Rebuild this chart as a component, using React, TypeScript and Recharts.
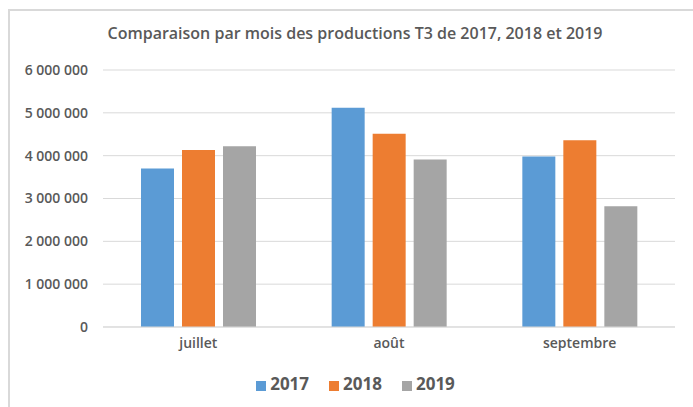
import React from "react";
import {
  BarChart,
  Bar,
  XAxis,
  YAxis,
  CartesianGrid,
  Legend,
} from "recharts";

// mois du troisième trimestre
const months = ["juillet", "août", "septembre"];

// productions par année
const prod2017 = [3700000, 5120000, 3980000];
const prod2018 = [4130000, 4510000, 4360000];
const prod2019 = [4220000, 3910000, 2820000];

const yTicks = [0, 1000000, 2000000, 3000000, 4000000, 5000000, 6000000];

const COLORS = {
  y2017: "#5b9bd5",
  y2018: "#ed7d31",
  y2019: "#a5a5a5",
};

const FONT = "'Open Sans', sans-serif";

const formatNumber = (value: number) =>
  String(value).replace(/\B(?=(\d{3})+(?!\d))/g, " ");

const App: React.FC = () => {
  const data = months.map((month, i) => ({
    month,
    "2017": prod2017[i],
    "2018": prod2018[i],
    "2019": prod2019[i],
  }));

  return (
    <div
      style={{
        position: "absolute",
        left: 0,
        top: 0,
        width: 693,
        height: 407,
        overflow: "hidden",
        background: "#fff",
        fontFamily: FONT,
      }}
    >
      {/* cadre du graphique */}
      <div
        style={{
          position: "absolute",
          left: 8,
          top: 9,
          width: 720,
          height: 440,
          border: "2px solid #d9d9d9",
        }}
      />
      <div
        style={{
          position: "absolute",
          left: 0,
          top: 22,
          width: 710,
          textAlign: "center",
          fontSize: 16,
          lineHeight: "22px",
          fontWeight: 600,
          color: "#595959",
        }}
      >
        Comparaison par mois des productions T3 de 2017, 2018 et 2019
      </div>
      <div style={{ position: "absolute", left: 0, top: 0 }}>
        <BarChart
          width={693}
          height={407}
          data={data}
          margin={{ top: 70, right: 18, bottom: 0, left: 0 }}
          barSize={33}
          barGap={8}
        >
          <CartesianGrid vertical={false} stroke="#d9d9d9" />
          <XAxis
            dataKey="month"
            axisLine={{ stroke: "#d9d9d9" }}
            tickLine={false}
            tickSize={0}
            tickMargin={11}
            height={30}
            tick={{ fill: "#595959", fontSize: 14, fontWeight: 600, fontFamily: FONT }}
          />
          <YAxis
            width={103}
            domain={[0, 6000000]}
            ticks={yTicks}
            axisLine={false}
            tickLine={false}
            tickSize={0}
            tickMargin={15}
            tickFormatter={formatNumber}
            tick={{ fill: "#595959", fontSize: 14, fontWeight: 600, fontFamily: FONT }}
          />
          <Legend
            verticalAlign="bottom"
            iconType="square"
            iconSize={10}
            height={50}
            wrapperStyle={{ paddingTop: 0, paddingLeft: 28, top: 372 }}
            formatter={(value) => (
              <span
                style={{
                  color: "#595959",
                  fontSize: 17,
                  fontWeight: 700,
                  marginRight: 10,
                }}
              >
                {value}
              </span>
            )}
          />
          <Bar dataKey="2017" fill={COLORS.y2017} isAnimationActive={false} />
          <Bar dataKey="2018" fill={COLORS.y2018} isAnimationActive={false} />
          <Bar dataKey="2019" fill={COLORS.y2019} isAnimationActive={false} />
        </BarChart>
      </div>
    </div>
  );
};

export default App;
